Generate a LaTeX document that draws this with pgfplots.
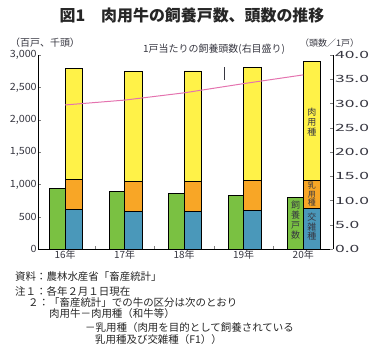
\documentclass[border=0pt]{standalone}
\usepackage{fontspec}
\setmainfont{Noto Sans CJK JP}
\usepackage{pgfplots}
\pgfplotsset{compat=1.18}
\definecolor{cgreen}{RGB}{122,193,66}
\definecolor{corange}{RGB}{248,166,38}
\definecolor{cblue}{RGB}{74,152,186}
\definecolor{cyellow}{RGB}{255,242,72}
\definecolor{cpink}{RGB}{228,115,175}
\definecolor{ctext}{RGB}{55,55,65}
\begin{document}
\begin{tikzpicture}
\useasboundingbox (0,0) rectangle (372bp,352bp);
\begin{axis}[
  at={(38bp,103bp)}, anchor=south west,
  scale only axis, width=295bp, height=194bp,
  xmin=-0.455, xmax=4.5, ymin=0, ymax=3000,
  axis x line*=bottom, axis y line*=left,
  axis line style={-, line width=0.6pt},
  tick align=inside,
  xtick={0,1,2,3,4},
  xticklabels={16年,17年,18年,19年,20年},
  minor xtick={0.5,1.5,2.5,3.5},
  major x tick style={draw=none},
  minor tick length=3bp, major tick length=3bp,
  ytick={0,500,...,3000},
  /pgf/number format/assume math mode=true,
  /pgf/number format/1000 sep={,},
  ticklabel style={font=\fontsize{10}{11}\selectfont, text=ctext},
  yticklabel style={inner sep=1pt, xscale=1.08},
  xticklabel style={inner sep=1pt},
  clip=false,
]
% green bars: households
\addplot[ybar, bar width=0.26, bar shift=-0.13, fill=cgreen, draw=black, line width=0.6pt]
  coordinates {(0,939) (1,896) (2,860) (3,834) (4,800)};
% stacked cattle: total (yellow top)
\addplot[ybar, bar width=0.29, bar shift=0.145, fill=cyellow, draw=black, line width=0.6pt]
  coordinates {(0,2790) (1,2750) (2,2753) (3,2806) (4,2898)};
% dairy (orange top)
\addplot[ybar, bar width=0.29, bar shift=0.145, fill=corange, draw=black, line width=0.6pt]
  coordinates {(0,1077) (1,1046) (2,1046) (3,1062) (4,1056)};
% crossbred (blue top)
\addplot[ybar, bar width=0.29, bar shift=0.145, fill=cblue, draw=black, line width=0.6pt]
  coordinates {(0,614) (1,587) (2,587) (3,598) (4,629)};
\node[align=center, font=\fontsize{9}{9.6}\selectfont, text=ctext] at (axis cs:4.145,1963) {肉\\用\\種};
\node[align=center, font=\fontsize{8}{8.4}\selectfont, text=ctext] at (axis cs:4.145,850) {乳\\用\\種};
\node[align=center, font=\fontsize{9}{9.6}\selectfont, text=ctext] at (axis cs:4.145,340) {交\\雑\\種};
\node[align=center, font=\fontsize{9}{9.8}\selectfont, text=ctext] at (axis cs:3.87,448) {飼\\養\\戸\\数};
\draw[line width=0.8pt, ctext] (axis cs:2.67,2813) -- (axis cs:2.67,2612);
\end{axis}
\begin{axis}[
  at={(38bp,103bp)}, anchor=south west,
  scale only axis, width=295bp, height=194bp,
  xmin=-0.455, xmax=4.5, ymin=0, ymax=40,
  axis x line=none, axis y line*=right,
  axis line style={-, line width=0.6pt},
  tick align=inside, major tick length=3bp,
  ytick={0,5,...,40},
  /pgf/number format/assume math mode=true,
  /pgf/number format/.cd, fixed, fixed zerofill, precision=1,
  /pgfplots/.cd,
  ticklabel style={font=\fontsize{10}{11}\selectfont, text=ctext},
  yticklabel style={inner sep=1pt, xscale=1.75, anchor=west},
  clip=false,
]
\addplot[cpink, line width=1pt, no marks]
  coordinates {(0,29.7) (1,30.7) (2,32.2) (3,34.1) (4,35.9)};
\end{axis}
% titles and labels
\node[font=\bfseries\fontsize{16}{18}\selectfont, text=black!85] at (192bp,337bp) {図1　肉用牛の飼養戸数、頭数の推移};
\node[anchor=west, font=\fontsize{10}{11}\selectfont, text=ctext, inner sep=0pt] at (10bp,309bp) {（百戸、千頭）};
\node[anchor=west, font=\fontsize{9}{10}\selectfont, text=ctext, inner sep=0pt] at (300bp,309bp) {（頭数／1戸）};
\node[anchor=west, font=\fontsize{10}{11}\selectfont, text=ctext, inner sep=0pt] at (143bp,303bp) {1戸当たりの飼養頭数(右目盛り)};
% notes
\begin{scope}[every node/.style={anchor=west, inner sep=0pt, font=\fontsize{10.5}{11}\selectfont, text=black!85}]
\node at (15bp,75bp) {資料：農林水産省「畜産統計」};
\node at (15bp,60bp) {注１：各年２月１日現在};
\node at (28bp,49bp) {２：「畜産統計」での牛の区分は次のとおり};
\node at (49bp,38bp) {肉用牛－肉用種（和牛等）};
\node at (85bp,24bp) {－乳用種（肉用を目的として飼養されている};
\node at (95bp,12bp) {乳用種及び交雑種（F1））};
\end{scope}
\end{tikzpicture}
\end{document}
